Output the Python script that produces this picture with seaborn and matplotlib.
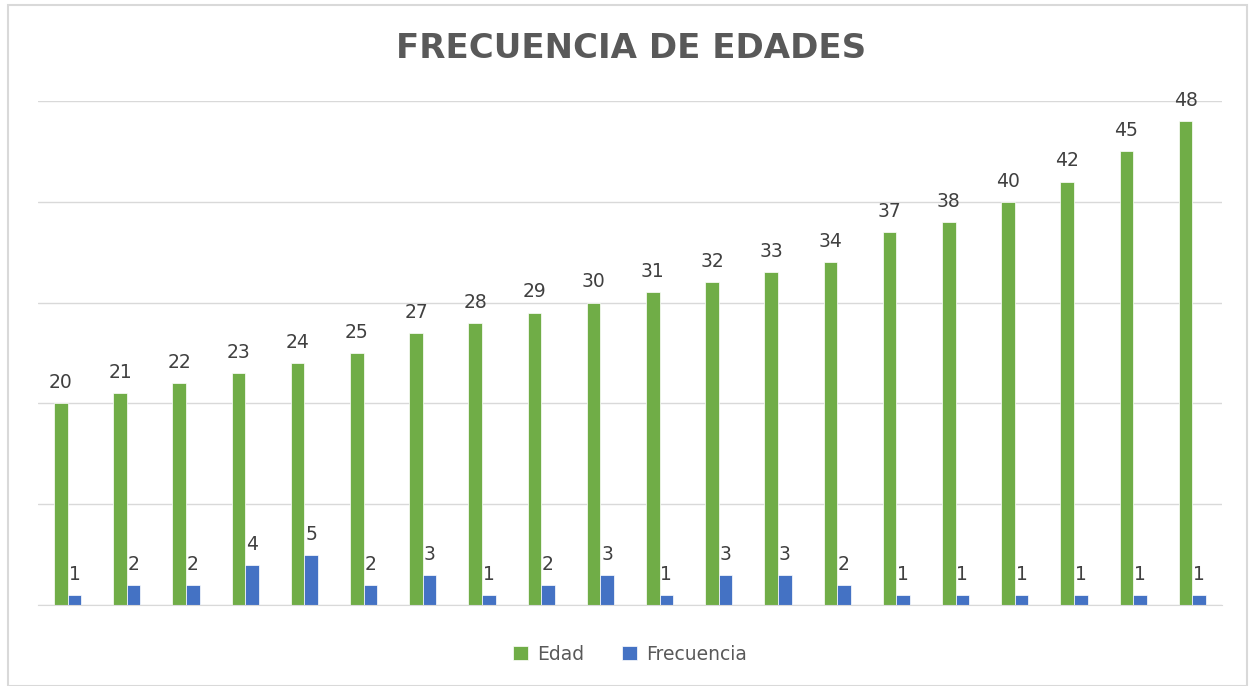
import numpy as np
import pandas as pd
import seaborn as sns
import matplotlib.pyplot as plt
from matplotlib.patches import Rectangle

# Data
edad = [20, 21, 22, 23, 24, 25, 27, 28, 29, 30, 31, 32, 33, 34, 37, 38, 40, 42, 45, 48]
frecuencia = [1, 2, 2, 4, 5, 2, 3, 1, 2, 3, 1, 3, 3, 2, 1, 1, 1, 1, 1, 1]
categorias = [str(i + 1) for i in range(len(edad))]

df = pd.DataFrame({
    "cat": categorias * 2,
    "valor": edad + frecuencia,
    "serie": ["Edad"] * len(edad) + ["Frecuencia"] * len(frecuencia),
})

sns.set_style("white")
plt.rcParams["font.family"] = ["DejaVu Sans"]

fig = plt.figure(figsize=(12.52, 6.86), dpi=100)
ax = fig.add_axes([0.0304, 0.118, 0.9456, 0.735])

sns.barplot(data=df, x="cat", y="valor", hue="serie",
            palette={"Edad": "#70AD47", "Frecuencia": "#4472C4"},
            width=0.46, saturation=1, linewidth=0.5, ax=ax, legend=True)

for cont in ax.containers:
    ax.bar_label(cont, padding=8, fontsize=13.5, color="#404040")

ax.set_ylim(0, 50)
ax.set_yticks(np.arange(0, 51, 10))
ax.yaxis.grid(True, color="#d9d9d9", linewidth=1)
ax.set_axisbelow(True)
ax.set_xlim(-0.5, len(edad) - 0.5)
ax.tick_params(left=False, bottom=False, labelleft=False, labelbottom=False)
ax.set_xlabel("")
ax.set_ylabel("")
for s in ["top", "right", "left"]:
    ax.spines[s].set_visible(False)
ax.spines["bottom"].set_color("#d9d9d9")

leg = ax.legend(loc="upper center", bbox_to_anchor=(0.5, -0.045), ncol=2,
                frameon=False, fontsize=13.5, handlelength=0.8, handleheight=0.8,
                handletextpad=0.5, columnspacing=2.0)
for t in leg.get_texts():
    t.set_color("#595959")

fig.text(0.504, 0.93, "FRECUENCIA DE EDADES", ha="center", va="center",
         fontsize=24.5, fontweight="bold", color="#595959")

fig.patches.append(Rectangle((0.0064, 0.0), 0.99, 0.993, transform=fig.transFigure,
                             fill=False, edgecolor="#d9d9d9", linewidth=1.5))

fig.savefig("out.png", dpi=100, facecolor="white")
